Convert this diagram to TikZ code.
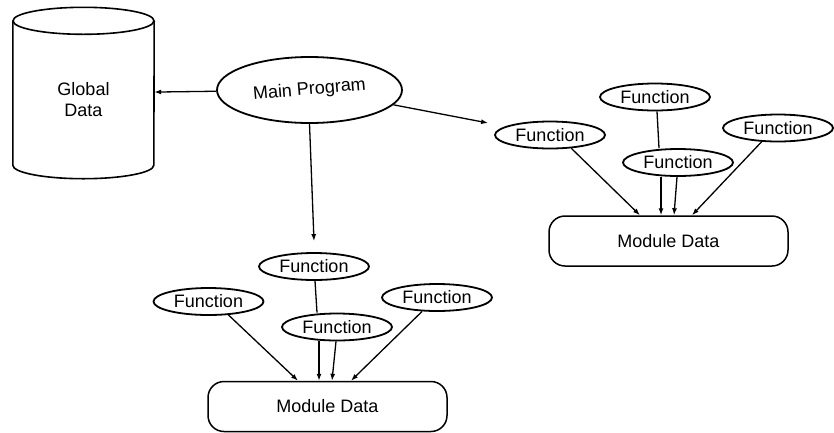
\documentclass[tikz,border=0pt]{standalone}
\usepackage{fontspec}
\setmainfont{Liberation Sans}
\usepackage{graphicx}
\usepackage{tikz}
\usetikzlibrary{arrows.meta,calc,shapes.geometric}

\begin{document}
\begin{tikzpicture}[x=1pt,y=-1pt,>={Latex[length=7pt,width=5pt]},font=\fontsize{18pt}{21pt}\selectfont,
  func/.style={ellipse,draw,line width=1.8pt,inner sep=0pt,minimum width=110pt,minimum height=27pt},
  moddata/.style={draw,line width=1.5pt,rounded corners=16pt,minimum width=239pt,minimum height=50pt},
  link/.style={line width=1.3pt}]
\useasboundingbox (0,0) rectangle (834,432);
% left side: store and main program
\node[minimum width=141pt,minimum height=144pt,align=center] (gd) at (83.5,93) {\rule{0pt}{27pt}Global\\Data};
\draw[line width=1.6pt] (gd.north west) -- (gd.south west)
  arc[start angle=180,end angle=360,x radius=70.5pt,y radius=13.5pt] -- (gd.north east);
\draw[line width=1.6pt] (gd.north) ellipse[x radius=70.5pt,y radius=13.5pt];
\node[ellipse,draw,line width=1.8pt,inner sep=0pt,minimum width=185pt,minimum height=66pt] (main) at (309.5,90) {\rotatebox{5}{Main Program}};
% right module
\node[func] (rfl) at (550,135) {Function};
\node[func] (rft) at (655,97) {Function};
\node[func] (rfr) at (778,128) {Function};
\node[func] (rfm) at (678,162.5) {Function};
\node[moddata] (rmd) at (668.5,241) {Module Data};
% bottom module
\node[func] (bft) at (314,266.5) {Function};
\node[func] (bfl) at (208.5,301.5) {Function};
\node[func] (bfr) at (437,297.5) {Function};
\node[func] (bfm) at (337,327) {Function};
\node[moddata] (bmd) at (327.5,406.5) {Module Data};
% main program calls
\draw[->,link] (main) -- (gd);
\draw[->,link] (main.south) -- ($(bft.north)+(0,-11)$);
\draw[->,link] (main.-10) -- ($(rfl.west)+(-6,-12)$);
% right module access
\draw[->,link] (rfl.-32) -- ($(rmd.north)+(-28.5,0)$);
\draw[link] ($(rft.south)+(2,0)$) -- ($(rfm.north)+(-19,0)$);
\draw[->,link] ($(rfm.south)+(-17,0)$) -- ($(rmd.north)+(-7.5,0)$);
\draw[->,link] ($(rfm.south)+(-1,0)$) -- ($(rmd.north)+(5.5,0)$);
\draw[->,link] (rfr.-140) -- ($(rmd.north)+(23.5,0)$);
% bottom module access
\draw[->,link] (bfl.-34) -- ($(bmd.north)+(-29.5,0)$);
\draw[link] ($(bft.south)+(1,0)$) -- ($(bfm.north)+(-20,0)$);
\draw[->,link] ($(bfm.south)+(-18,0)$) -- ($(bmd.north)+(-8.5,0)$);
\draw[->,link] ($(bfm.south)+(-1,0)$) -- ($(bmd.north)+(4.5,0)$);
\draw[->,link] (bfr.-137) -- ($(bmd.north)+(23.5,0)$);
\end{tikzpicture}
\end{document}
